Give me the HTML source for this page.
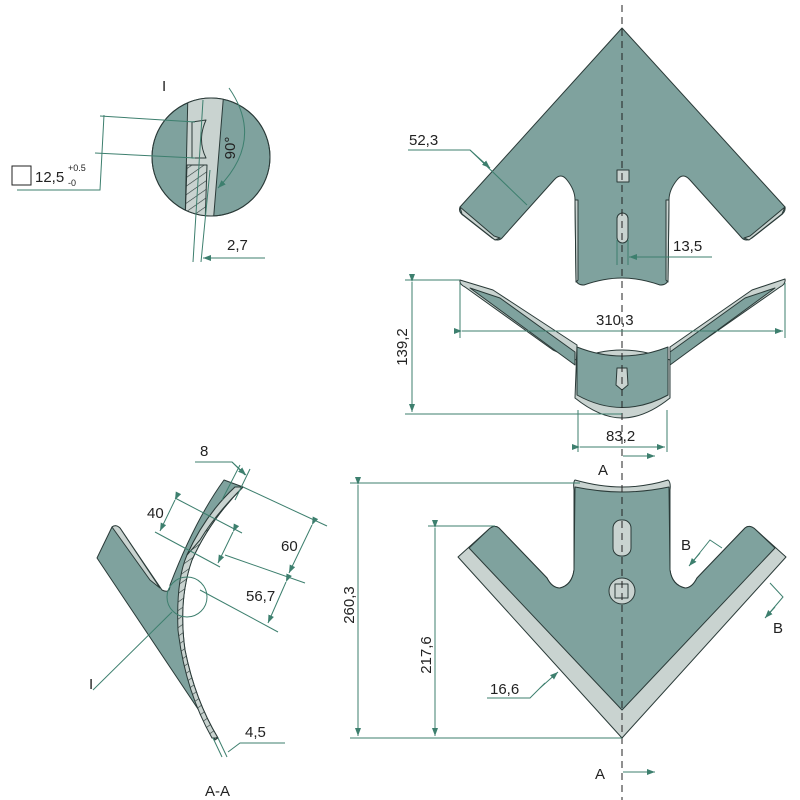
<!DOCTYPE html>
<html><head><meta charset="utf-8"><style>
html,body{margin:0;padding:0;background:#fff}
svg{display:block}
text{font-family:"Liberation Sans",sans-serif;font-size:15px;fill:#222}
</style></head><body>
<svg width="800" height="800" viewBox="0 0 800 800" xmlns="http://www.w3.org/2000/svg">
<defs>
<marker id="ar" markerWidth="8" markerHeight="6" refX="8" refY="3" orient="auto" markerUnits="userSpaceOnUse"><path d="M0,0 L8,3 L0,6 Z" fill="#3d7f6e"/></marker>
<pattern id="hatch" width="7" height="7" patternUnits="userSpaceOnUse" patternTransform="rotate(-35)"><rect width="7" height="7" fill="#c9d3d0"/><line x1="0" y1="0" x2="7" y2="0" stroke="#2a3a38" stroke-width="1.2"/></pattern>
<clipPath id="cc"><circle cx="211" cy="157" r="59"/></clipPath>
</defs>
<g stroke="#2a3a38" stroke-width="1" stroke-linejoin="round">
<!-- top view -->
<path d="M622,28 L785,207 Q786,212 780,216 L752,238 Q746,242 742,238 L690,180 Q683,172 677,180 Q669,190 669,200 L668,280 Q667,285 660,285 Q640,278 622,278 Q604,278 584,285 Q577,285 576,280 L575,200 Q575,190 567,180 Q561,172 554,180 L502,238 Q498,242 492,238 L464,216 Q458,212 460,207 Z" fill="#7fa29e"/>
<path d="M460,207 L494,236 L500,238 L495,240 L462,214 Z" fill="#c9d3d0"/>
<path d="M785,207 L750,236 L744,238 L749,240 L782,214 Z" fill="#c9d3d0"/>
<path d="M575,200 L578,200 L578,280 L576,282 Z M669,200 L666,200 L666,280 L668,282 Z" fill="#c9d3d0"/>
<rect x="617" y="170" width="12" height="12" fill="#c9d3d0"/>
<rect x="617" y="213" width="11" height="30" rx="5.5" fill="#c9d3d0"/>
<!-- front view -->
<path d="M460,280 L493,290 L577,345 L575,398 Q600,418 622,418 Q645,418 670,398 L670,347 L752,290 L785,279 Q786,284 780,287 L690,350 L670,360 Q622,340 575,360 L553,350 L465,287 Q459,284 460,280 Z" fill="#c9d3d0"/>
<path d="M470,288 L500,298 L575,352 L575,365 Z M775,288 L745,298 L670,352 L670,365 Z" fill="#7fa29e"/>
<path d="M577,347 Q622,365 668,347 L668,395 Q622,420 577,395 Z" fill="#7fa29e"/>
<path d="M617,368 L627,368 L628,385 L622,390 L616,385 Z" fill="#c9d3d0"/>
<!-- bottom view -->
<path d="M575,480 Q600,487 622,487 Q645,487 668,480 Q671,482 670,490 L670,570 Q672,585 685,588 Q692,588 697,578 L745,528 Q750,524 756,530 L786,557 L622,738 L458,557 L488,530 Q494,524 499,528 L547,578 Q552,588 560,588 Q572,585 574,570 L574,490 Q573,482 575,480 Z" fill="#c9d3d0"/>
<path d="M575,487 Q600,492 622,492 Q645,492 669,487 L670,570 Q672,585 685,588 Q692,588 697,578 L745,528 Q750,524 756,530 L775,548 L622,710 L469,548 L488,530 Q494,524 499,528 L547,578 Q552,588 560,588 Q572,585 574,570 Z" fill="#7fa29e"/>
<rect x="613" y="520" width="18" height="36" rx="8" fill="#c9d3d0"/>
<circle cx="622" cy="591" r="13" fill="#c9d3d0"/>
<rect x="615" y="584" width="13" height="14" fill="#c9d3d0"/>
<!-- section A-A -->
<path d="M112,527 Q115,524 120,528 L162,590 Q170,594 170,585 Q195,520 224,480 L243,487 Q210,520 192,560 Q178,600 185,650 Q195,700 218,738 L215,740 L200,712 L97,558 Z" fill="#7fa29e"/>
<path d="M112,527 Q116,524 120,528 L160,588 L150,580 Z" fill="#c9d3d0"/>
<path d="M235,487 L243,487 Q210,520 192,560 Q178,600 185,650 Q195,700 218,738 L212,738 Q185,690 178,630 Q176,580 187,555 Q205,515 235,487 Z" fill="url(#hatch)"/>
<path d="M235,487 L243,487 Q215,515 200,540 L187,555 Q205,515 235,487 Z" fill="#c9d3d0"/>
<!-- detail I -->
<circle cx="211" cy="157" r="59" fill="#7fa29e"/>
<g clip-path="url(#cc)">
<path d="M188,90 L224,90 L213,225 L185,225 Z" fill="#c9d3d0"/>
<path d="M187,165 L207,165 L205,225 L185,225 Z" fill="url(#hatch)"/>
<path d="M192,122 L206,120 Q197,140 206,158 L192,158 Z" fill="#c9d3d0"/>
</g>
<circle cx="211" cy="157" r="59" fill="none"/>
</g>
<circle cx="187" cy="597" r="20" fill="none" stroke="#3d7f6e" stroke-width="1"/>
<!-- centerline -->
<line x1="622" y1="5" x2="622" y2="800" stroke="#222" stroke-width="1" stroke-dasharray="7,5"/>
<g stroke="#3d7f6e" stroke-width="1" fill="none">
<polyline points="408,150 470,150 527,205"/><line x1="470" y1="150" x2="490" y2="168" marker-end="url(#ar)"/>
<line x1="617" y1="240" x2="617" y2="265"/><line x1="628" y1="240" x2="628" y2="265"/>
<line x1="712" y1="257" x2="629" y2="257" marker-end="url(#ar)"/>
<line x1="460" y1="283" x2="460" y2="338"/><line x1="785" y1="283" x2="785" y2="338"/>
<line x1="462" y1="331" x2="783" y2="331" marker-start="url(#ar)" marker-end="url(#ar)"/>
<line x1="405" y1="280" x2="460" y2="280"/><line x1="405" y1="414" x2="622" y2="414"/>
<line x1="412" y1="282" x2="412" y2="412" marker-start="url(#ar)" marker-end="url(#ar)"/>
<line x1="578" y1="410" x2="578" y2="452"/><line x1="667" y1="410" x2="667" y2="452"/>
<line x1="580" y1="447" x2="665" y2="447" marker-start="url(#ar)" marker-end="url(#ar)"/>
<line x1="350" y1="483" x2="580" y2="483"/><line x1="350" y1="738" x2="622" y2="738"/>
<line x1="358" y1="485" x2="358" y2="736" marker-start="url(#ar)" marker-end="url(#ar)"/>
<line x1="428" y1="526" x2="495" y2="526"/>
<line x1="435" y1="528" x2="435" y2="736" marker-start="url(#ar)" marker-end="url(#ar)"/>
<polyline points="487,698 530,698 545,683"/><line x1="540" y1="688" x2="558" y2="672" marker-end="url(#ar)"/>
<polyline points="623,456 655,456"/><line x1="640" y1="456" x2="655" y2="456" marker-end="url(#ar)"/>
<line x1="640" y1="772" x2="655" y2="772" marker-end="url(#ar)"/><line x1="623" y1="772" x2="640" y2="772"/>
<polyline points="722,548 710,540 690,565"/><line x1="700" y1="553" x2="689" y2="566" marker-end="url(#ar)"/>
<polyline points="770,583 783,597 766,617"/><line x1="775" y1="607" x2="765" y2="618" marker-end="url(#ar)"/>
<polyline points="195,462 232,462 245,475"/><line x1="232" y1="462" x2="246" y2="475" marker-end="url(#ar)"/>
<line x1="240" y1="465" x2="222" y2="500"/><line x1="250" y1="469" x2="235" y2="500"/>
<line x1="243" y1="487" x2="327" y2="526"/><line x1="225" y1="555" x2="305" y2="583"/><line x1="200" y1="590" x2="278" y2="632"/>
<line x1="312" y1="525" x2="289" y2="573" marker-start="url(#ar)" marker-end="url(#ar)"/>
<line x1="286" y1="582" x2="268" y2="623" marker-start="url(#ar)" marker-end="url(#ar)"/>
<line x1="175" y1="498" x2="242" y2="533"/><line x1="155" y1="532" x2="220" y2="567"/>
<line x1="175" y1="500" x2="160" y2="531" marker-start="url(#ar)" marker-end="url(#ar)"/>
<line x1="233" y1="532" x2="218" y2="563" marker-start="url(#ar)" marker-end="url(#ar)"/>
<line x1="93" y1="690" x2="172" y2="612"/>
<line x1="213" y1="738" x2="222" y2="757"/><line x1="218" y1="738" x2="227" y2="757"/>
<polyline points="285,743 240,743 228,752"/>
<polyline points="17,190 100,190 104,115"/>
<line x1="100" y1="116" x2="195" y2="122"/><line x1="95" y1="153" x2="195" y2="158"/>
<line x1="203" y1="100" x2="193" y2="262"/><line x1="210" y1="170" x2="201" y2="262"/>
<line x1="265" y1="258" x2="203" y2="258" marker-end="url(#ar)"/>
<path d="M229,88 Q265,140 218,188" marker-end="url(#ar)"/>
</g>
<rect x="12" y="166" width="19" height="19" fill="none" stroke="#222" stroke-width="1"/>
<text x="35" y="182">12,5</text>
<text x="68" y="171" style="font-size:9px">+0.5</text>
<text x="68" y="186" style="font-size:9px">-0</text>
<text x="162" y="91">I</text>
<text x="235" y="148" transform="rotate(-90 235 148)" text-anchor="middle">90°</text>
<text x="227" y="250">2,7</text>
<text x="409" y="145">52,3</text>
<text x="673" y="251">13,5</text>
<text x="596" y="325">310,3</text>
<text x="407" y="347" transform="rotate(-90 407 347)" text-anchor="middle">139,2</text>
<text x="606" y="441">83,2</text>
<text x="598" y="475">A</text>
<text x="595" y="779">A</text>
<text x="681" y="550">B</text>
<text x="773" y="633">B</text>
<text x="354" y="605" transform="rotate(-90 354 605)" text-anchor="middle">260,3</text>
<text x="431" y="655" transform="rotate(-90 431 655)" text-anchor="middle">217,6</text>
<text x="490" y="694">16,6</text>
<text x="200" y="456">8</text>
<text x="147" y="518">40</text>
<text x="281" y="551">60</text>
<text x="246" y="601">56,7</text>
<text x="89" y="689">I</text>
<text x="245" y="737">4,5</text>
<text x="205" y="796">A-A</text>
</svg>
</body></html>
